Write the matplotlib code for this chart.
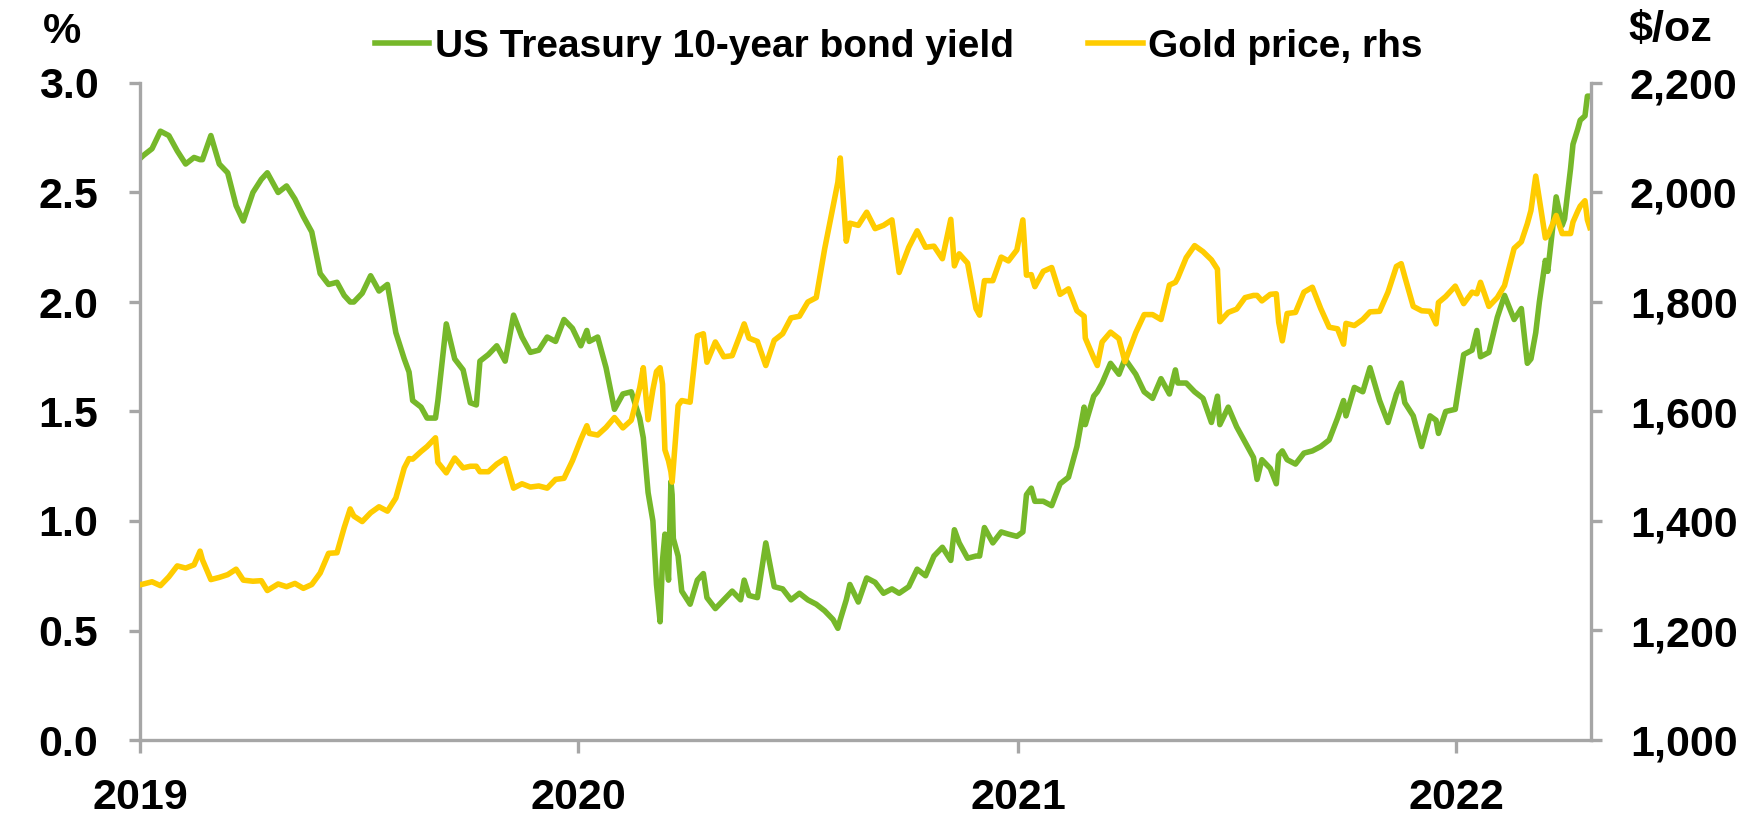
import pandas as pd
import matplotlib.pyplot as plt
import matplotlib.dates as mdates
from matplotlib.ticker import FuncFormatter, MultipleLocator

plt.rcParams.update({
    "font.family": ["Liberation Sans", "DejaVu Sans"],
    "font.weight": "bold",
})

# Data (roughly weekly plus the notable spikes)
dates = [
    "2019-01-02", "2019-01-04", "2019-01-11", "2019-01-18", "2019-01-25", "2019-02-01", "2019-02-08",
    "2019-02-15", "2019-02-20", "2019-02-22", "2019-03-01", "2019-03-08", "2019-03-15", "2019-03-22",
    "2019-03-28", "2019-04-05", "2019-04-12", "2019-04-17", "2019-04-26", "2019-05-03", "2019-05-10",
    "2019-05-17", "2019-05-24", "2019-05-31", "2019-06-07", "2019-06-14", "2019-06-20", "2019-06-25",
    "2019-06-28", "2019-07-05", "2019-07-12", "2019-07-19", "2019-07-26", "2019-08-02", "2019-08-09",
    "2019-08-13", "2019-08-16", "2019-08-23", "2019-08-28", "2019-09-04", "2019-09-06", "2019-09-13",
    "2019-09-20", "2019-09-27", "2019-10-03", "2019-10-08", "2019-10-11", "2019-10-18", "2019-10-25",
    "2019-11-01", "2019-11-08", "2019-11-15", "2019-11-22", "2019-11-29", "2019-12-06", "2019-12-13",
    "2019-12-20", "2019-12-27",
    "2020-01-03", "2020-01-08", "2020-01-10", "2020-01-17", "2020-01-24", "2020-01-31", "2020-02-07",
    "2020-02-14", "2020-02-21", "2020-02-24", "2020-02-28", "2020-03-03", "2020-03-06", "2020-03-09",
    "2020-03-11", "2020-03-13", "2020-03-16", "2020-03-18", "2020-03-19", "2020-03-20", "2020-03-24",
    "2020-03-27", "2020-04-03", "2020-04-09", "2020-04-14", "2020-04-17", "2020-04-24", "2020-05-01",
    "2020-05-08", "2020-05-15", "2020-05-18", "2020-05-22", "2020-05-29", "2020-06-05", "2020-06-12",
    "2020-06-19", "2020-06-26", "2020-07-03", "2020-07-10", "2020-07-17", "2020-07-24", "2020-07-31",
    "2020-08-04", "2020-08-06", "2020-08-11", "2020-08-14", "2020-08-21", "2020-08-28", "2020-09-04",
    "2020-09-11", "2020-09-18", "2020-09-24", "2020-10-02", "2020-10-09", "2020-10-16", "2020-10-23",
    "2020-10-30", "2020-11-06", "2020-11-09", "2020-11-13", "2020-11-20", "2020-11-27", "2020-11-30",
    "2020-12-04", "2020-12-11", "2020-12-18", "2020-12-24", "2020-12-31",
    "2021-01-05", "2021-01-08", "2021-01-12", "2021-01-15", "2021-01-22", "2021-01-29", "2021-02-05",
    "2021-02-12", "2021-02-19", "2021-02-25", "2021-02-26", "2021-03-05", "2021-03-08", "2021-03-12",
    "2021-03-19", "2021-03-26", "2021-03-31", "2021-04-09", "2021-04-16", "2021-04-23", "2021-04-30",
    "2021-05-07", "2021-05-12", "2021-05-14", "2021-05-21", "2021-05-28", "2021-06-04", "2021-06-11",
    "2021-06-16", "2021-06-18", "2021-06-25", "2021-07-02", "2021-07-09", "2021-07-16", "2021-07-19",
    "2021-07-23", "2021-07-30", "2021-08-04", "2021-08-06", "2021-08-09", "2021-08-13", "2021-08-20",
    "2021-08-27", "2021-09-03", "2021-09-10", "2021-09-17", "2021-09-24", "2021-09-29", "2021-10-01",
    "2021-10-08", "2021-10-15", "2021-10-21", "2021-10-29", "2021-11-05", "2021-11-12", "2021-11-16",
    "2021-11-19", "2021-11-26", "2021-12-03", "2021-12-10", "2021-12-15", "2021-12-17", "2021-12-23",
    "2021-12-31",
    "2022-01-07", "2022-01-14", "2022-01-18", "2022-01-21", "2022-01-28", "2022-02-04", "2022-02-10",
    "2022-02-18", "2022-02-24", "2022-03-01", "2022-03-04", "2022-03-08", "2022-03-11", "2022-03-16",
    "2022-03-18", "2022-03-25", "2022-03-30", "2022-04-01", "2022-04-06", "2022-04-08", "2022-04-12",
    "2022-04-14", "2022-04-18", "2022-04-20", "2022-04-22",
]

us10y_yield = [
    2.66, 2.67, 2.70, 2.78, 2.76, 2.69, 2.63,
    2.66, 2.65, 2.65, 2.76, 2.63, 2.59, 2.44,
    2.37, 2.50, 2.56, 2.59, 2.50, 2.53, 2.47,
    2.39, 2.32, 2.13, 2.08, 2.09, 2.03, 2.00,
    2.00, 2.04, 2.12, 2.05, 2.08, 1.86, 1.74,
    1.68, 1.55, 1.52, 1.47, 1.47, 1.55, 1.90,
    1.74, 1.69, 1.54, 1.53, 1.73, 1.76, 1.80,
    1.73, 1.94, 1.84, 1.77, 1.78, 1.84, 1.82,
    1.92, 1.88,
    1.80, 1.87, 1.82, 1.84, 1.70, 1.51, 1.58,
    1.59, 1.47, 1.38, 1.13, 1.00, 0.71, 0.54,
    0.82, 0.94, 0.73, 1.18, 1.12, 0.92, 0.84,
    0.68, 0.62, 0.73, 0.76, 0.65, 0.60, 0.64,
    0.68, 0.64, 0.73, 0.66, 0.65, 0.90, 0.70,
    0.69, 0.64, 0.67, 0.64, 0.62, 0.59, 0.55,
    0.51, 0.55, 0.64, 0.71, 0.63, 0.74, 0.72,
    0.67, 0.69, 0.67, 0.70, 0.78, 0.75, 0.84,
    0.88, 0.82, 0.96, 0.90, 0.83, 0.84, 0.84,
    0.97, 0.90, 0.95, 0.94, 0.93,
    0.95, 1.12, 1.15, 1.09, 1.09, 1.07, 1.17,
    1.20, 1.34, 1.52, 1.44, 1.57, 1.59, 1.63,
    1.72, 1.67, 1.74, 1.67, 1.59, 1.56, 1.65,
    1.58, 1.69, 1.63, 1.63, 1.59, 1.56, 1.45,
    1.57, 1.44, 1.52, 1.43, 1.36, 1.29, 1.19,
    1.28, 1.24, 1.17, 1.30, 1.32, 1.28, 1.26,
    1.31, 1.32, 1.34, 1.37, 1.47, 1.55, 1.48,
    1.61, 1.59, 1.70, 1.55, 1.45, 1.58, 1.63,
    1.54, 1.48, 1.34, 1.48, 1.46, 1.40, 1.50,
    1.51,
    1.76, 1.78, 1.87, 1.75, 1.77, 1.93, 2.03,
    1.92, 1.97, 1.72, 1.74, 1.86, 2.00, 2.19,
    2.14, 2.48, 2.35, 2.38, 2.61, 2.72, 2.79,
    2.83, 2.85, 2.94, 2.94,
]

gold_price = [
    1284, 1285, 1289, 1282, 1298, 1318, 1314,
    1320, 1345, 1329, 1293, 1297, 1302, 1312,
    1292, 1290, 1291, 1273, 1285, 1280, 1286,
    1277, 1284, 1305, 1341, 1342, 1388, 1422,
    1409, 1399, 1415, 1426, 1418, 1442, 1497,
    1514, 1513, 1527, 1536, 1552, 1507, 1488,
    1515, 1497, 1500, 1500, 1490, 1490, 1504,
    1514, 1460, 1468, 1462, 1464, 1460, 1476,
    1478, 1510,
    1549, 1574, 1560, 1557, 1571, 1589, 1570,
    1584, 1643, 1680, 1585, 1640, 1673, 1680,
    1650, 1530, 1510, 1490, 1471, 1498, 1611,
    1620, 1617, 1738, 1742, 1690, 1727, 1700,
    1702, 1742, 1760, 1734, 1728, 1684, 1730,
    1742, 1771, 1774, 1800, 1808, 1897, 1975,
    2019, 2063, 1911, 1944, 1940, 1964, 1934,
    1940, 1950, 1854, 1900, 1930, 1900, 1902,
    1879, 1951, 1866, 1888, 1871, 1788, 1776,
    1839, 1839, 1882, 1875, 1895,
    1950, 1849, 1850, 1828, 1856, 1863, 1814,
    1824, 1784, 1774, 1734, 1698, 1684, 1727,
    1745, 1733, 1691, 1744, 1777, 1777, 1768,
    1831, 1836, 1844, 1881, 1903, 1892, 1877,
    1860, 1764, 1781, 1787, 1808, 1812, 1812,
    1802, 1814, 1815, 1763, 1729, 1779, 1781,
    1818, 1827, 1788, 1754, 1751, 1723, 1761,
    1757, 1768, 1782, 1783, 1818, 1865, 1870,
    1846, 1792, 1784, 1783, 1760, 1799, 1810,
    1829,
    1797, 1818, 1815, 1836, 1792, 1808, 1830,
    1898, 1910, 1943, 1967, 2030, 1988, 1917,
    1921, 1958, 1925, 1925, 1925, 1946, 1966,
    1975, 1985, 1950, 1936,
]

x = pd.to_datetime(dates)

green = "#76B82A"
yellow = "#FFCC00"
grey = "#A6A6A6"

fig = plt.figure(figsize=(17.53, 8.22), dpi=100)
ax = fig.add_axes([140 / 1753, 82 / 822, 1451 / 1753, 657 / 822])
ax2 = ax.twinx()

l1, = ax.plot(x, us10y_yield, color=green, lw=4.0, solid_joinstyle="round",
              label="US Treasury 10-year bond yield")
l2, = ax2.plot(x, gold_price, color=yellow, lw=4.0, solid_joinstyle="round",
               label="Gold price, rhs")

ax.set_xlim(pd.Timestamp("2019-01-01"), pd.Timestamp("2022-04-23"))
ax.set_ylim(0, 3)
ax2.set_ylim(1000, 2200)
ax.yaxis.set_major_locator(MultipleLocator(0.5))
ax2.yaxis.set_major_locator(MultipleLocator(200))
ax.yaxis.set_major_formatter(FuncFormatter(lambda v, p: f"{v:.1f}"))
ax2.yaxis.set_major_formatter(FuncFormatter(lambda v, p: f"{v:,.0f}"))
ax.xaxis.set_major_locator(mdates.YearLocator())
ax.xaxis.set_major_formatter(mdates.DateFormatter("%Y"))

# spines: grey left / right / bottom, nothing on top
for a in (ax, ax2):
    a.spines["top"].set_visible(False)
ax.spines["right"].set_visible(False)
ax2.spines["left"].set_visible(False)
ax2.spines["bottom"].set_visible(False)
for s in (ax.spines["left"], ax.spines["bottom"], ax2.spines["right"]):
    s.set_color(grey)
    s.set_linewidth(2.4)

ax.tick_params(axis="y", length=8, width=2.4, color=grey, pad=22, labelsize=31)
ax2.tick_params(axis="y", length=8, width=2.4, color=grey, pad=20, labelsize=31)
ax.tick_params(axis="x", length=9, width=2.4, color=grey, pad=18, labelsize=31)

fig.text(62 / 1753, 1 - 32 / 822, "%", ha="center", va="center", fontsize=31)
fig.text(1670 / 1753, 1 - 30 / 822, "$/oz", ha="center", va="center", fontsize=31)

fig.legend(handles=[l1, l2], loc="center", bbox_to_anchor=(899 / 1753, 1 - 47 / 822),
           ncol=2, frameon=False, fontsize=28, handlelength=1.4, handletextpad=0.15,
           columnspacing=1.9, borderpad=0)

fig.savefig("out.png", dpi=100)
